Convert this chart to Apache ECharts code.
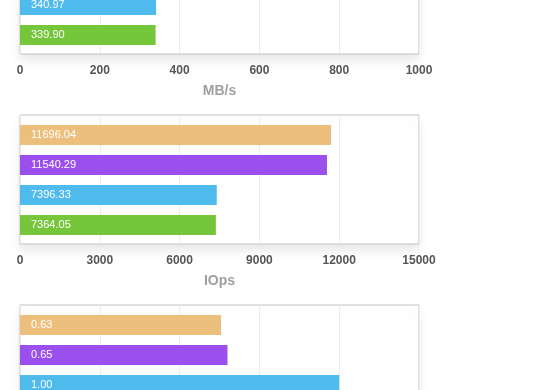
<!DOCTYPE html>
<html><head><meta charset="utf-8">
<script src="https://cdn.jsdelivr.net/npm/echarts@6/dist/echarts.min.js"></script>
<style>
html,body{margin:0;padding:0;width:560px;height:390px;overflow:hidden;background:#fff}
#wrap{position:absolute;left:0;top:-190px;width:560px;height:700px}
</style>
</head><body><div id="wrap"></div>
<script>
// ---- data ----
const categories = ['Config 1', 'Config 2', 'Config 3', 'Config 4'];
const barColors = ['#ECC07C', '#9B50EE', '#4FBBEC', '#76C63B'];
// top panel: first two bars are outside the visible area
const throughputValues = [null, null, 340.97, 339.90];
const iopsValues = [11696.04, 11540.29, 7396.33, 7364.05];
// bottom panel: last bar is outside the visible area
const latencyValues = [0.63, 0.65, 1.00, null];
const axisMaxes = [1000, 15000, 1.25];
const axisIntervals = [200, 3000, 0.25];
const axisNames = ['MB/s', 'IOps', ''];
const panelValues = [throughputValues, iopsValues, latencyValues];

// ---- layout ----
const FONT = '"Liberation Sans", Arial, Helvetica, sans-serif';
const boxTops = [115, 305, 495];
const boxH = 129;
const left = 20, right = 141;

const grid = [], xAxis = [], yAxis = [], series = [];
panelValues.forEach((vals, k) => {
  const gFrame = grid.length;
  grid.push({
    left, right, top: boxTops[k], height: boxH,
    show: true, borderColor: '#c2c2c2', borderWidth: 1, backgroundColor: '#fff',
    shadowColor: 'rgba(0,0,0,0.09)', shadowBlur: 10, shadowOffsetY: 7
  });
  const gBars = grid.length;
  grid.push({ left, right, top: boxTops[k] + 5, height: 120 });

  xAxis.push({
    gridIndex: gFrame, type: 'value', min: 0, max: axisMaxes[k], interval: axisIntervals[k],
    axisLine: { show: false }, axisTick: { show: false },
    splitLine: { show: true, lineStyle: { color: '#ececec', width: 1 } },
    axisLabel: { margin: 11, color: '#555', fontSize: 12, fontWeight: 'bold', fontFamily: FONT,
      formatter: v => String(v) },
    name: axisNames[k], nameLocation: 'middle', nameGap: 30,
    nameTextStyle: { color: '#a0a0a0', fontSize: 14, fontWeight: 'bold', fontFamily: FONT }
  });
  yAxis.push({ gridIndex: gFrame, type: 'value', show: false });

  const xb = xAxis.length;
  xAxis.push({ gridIndex: gBars, type: 'value', min: 0, max: axisMaxes[k], show: false, splitLine: { show: false } });
  const yb = yAxis.length;
  yAxis.push({ gridIndex: gBars, type: 'category', data: categories, inverse: true, show: false });

  series.push({
    type: 'bar', xAxisIndex: xb, yAxisIndex: yb, barWidth: 20,
    data: vals.map((v, i) => ({ value: v, itemStyle: { color: barColors[i] } })),
    label: {
      show: true, position: 'insideLeft', distance: 11, color: '#fff',
      fontSize: 11, fontFamily: FONT,
      formatter: p => (p.value == null ? '' : Number(p.value).toFixed(2))
    },
    animation: false
  });
});

const chart = echarts.init(document.getElementById('wrap'), null, { renderer: 'canvas' });
chart.setOption({ animation: false, grid, xAxis, yAxis, series });
</script>
</body></html>
